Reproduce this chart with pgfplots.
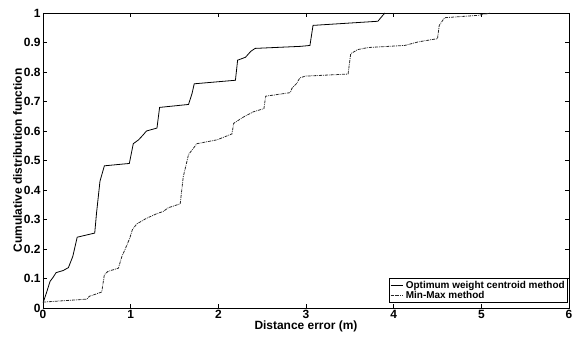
\documentclass[border=0pt]{standalone}
\usepackage{fontspec}
\setmainfont{Liberation Sans}
\usepackage{pgfplots}
\pgfplotsset{compat=1.18}
\begin{document}
\begin{tikzpicture}
\begin{axis}[
  scale only axis, width=526bp, height=295bp,
  xmin=0, xmax=6, ymin=0, ymax=1,
  xtick={0,1,2,3,4,5,6},
  ytick={0,0.1,0.2,0.3,0.4,0.5,0.6,0.7,0.8,0.9,1},
  yticklabels={0,0.1,0.2,0.3,0.4,0.5,0.6,0.7,0.8,0.9,1},
  tick align=inside, major tick length=4bp,
  tick style={black, line width=0.6pt},
  axis line style={line width=0.7pt},
  /pgf/number format/assume math mode=true,
  ticklabel style={font=\fontsize{12}{14}\selectfont\bfseries},
  xticklabel style={yshift=1bp},
  yticklabel style={xshift=1bp},
  xlabel={Distance error (m)}, ylabel={Cumulative distribution function},
  label style={font=\fontsize{12}{14}\selectfont\bfseries},
  xlabel style={yshift=5bp},
  ylabel style={yshift=-5bp},
  legend style={at={(0.998,0.017)}, anchor=south east, font=\fontsize{10}{11}\selectfont\bfseries,
    draw=black, line width=0.5pt, inner sep=1pt, row sep=-3pt, cells={anchor=west}},
  legend image code/.code={\draw[#1] (0cm,0cm) -- (0.45cm,0cm);},
]
\addplot[black, line width=0.8pt] coordinates {
(0,0.017) (0.038,0.05) (0.08,0.09) (0.115,0.104) (0.15,0.12) (0.23,0.127) (0.29,0.137)
(0.34,0.175) (0.39,0.24) (0.59,0.254) (0.61,0.32) (0.65,0.43) (0.70,0.482)
(0.985,0.49) (1.03,0.557) (1.09,0.57) (1.14,0.586) (1.18,0.60) (1.30,0.61) (1.33,0.68)
(1.66,0.69) (1.70,0.727) (1.725,0.76) (2.195,0.772) (2.22,0.84) (2.31,0.85) (2.37,0.87) (2.42,0.88)
(2.94,0.887) (3.045,0.89) (3.08,0.958) (3.82,0.972) (3.87,0.99) (3.9,1.0)
};
\addlegendentry{Optimum weight centroid method}
\addplot[black!85, line width=0.8pt, densely dashdotted] coordinates {
(0,0.02) (0.50,0.03) (0.53,0.04) (0.67,0.054) (0.70,0.113) (0.74,0.124) (0.86,0.135)
(0.90,0.175) (0.935,0.198) (0.99,0.237) (1.02,0.266) (1.07,0.285) (1.18,0.304) (1.30,0.32)
(1.37,0.327) (1.43,0.34) (1.565,0.353) (1.60,0.445) (1.66,0.52) (1.755,0.557) (1.985,0.57)
(2.155,0.59) (2.175,0.626) (2.29,0.648) (2.40,0.665) (2.52,0.676) (2.54,0.718) (2.82,0.73)
(2.84,0.745) (2.89,0.76) (2.93,0.78) (2.99,0.786) (3.48,0.793) (3.51,0.862) (3.59,0.876)
(3.71,0.883) (4.125,0.89) (4.28,0.902) (4.50,0.913) (4.52,0.958) (4.58,0.984) (4.96,0.992) (5.11,1.0)
};
\addlegendentry{Min-Max method}
\end{axis}
\pgfresetboundingbox
\path[use as bounding box] ([xshift=-43bp,yshift=-37bp]current axis.south west) rectangle ([xshift=3bp,yshift=13bp]current axis.north east);
\end{tikzpicture}
\end{document}
